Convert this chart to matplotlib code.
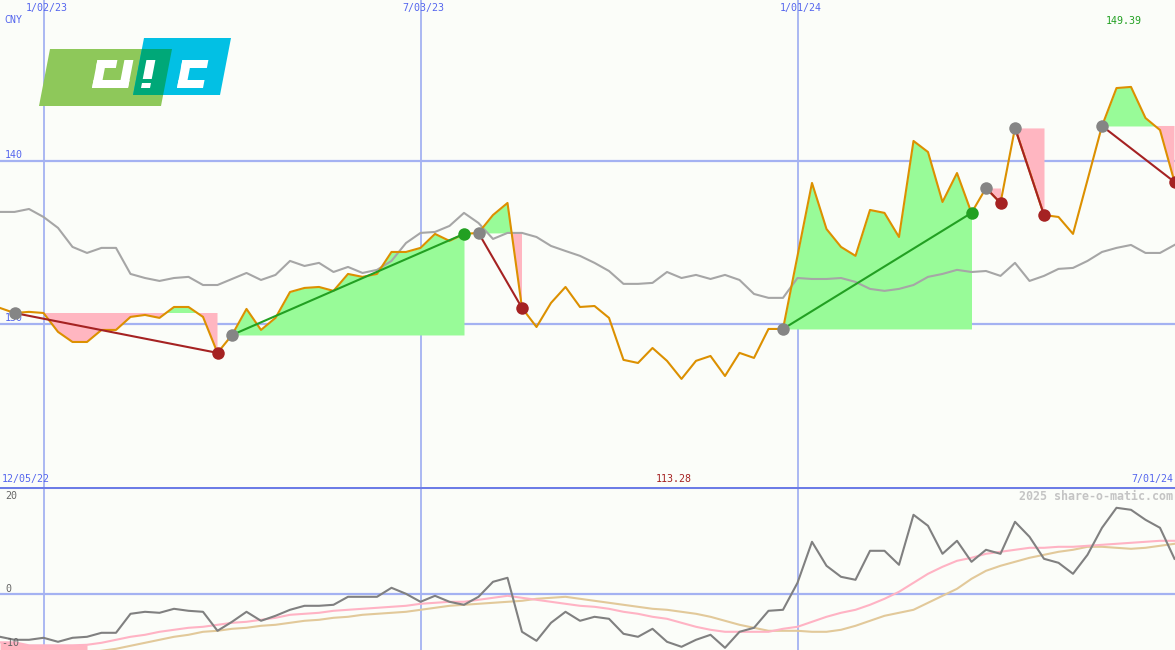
import matplotlib
matplotlib.use('Agg')
import matplotlib.pyplot as plt
from matplotlib.patches import Polygon
import matplotlib.transforms as mtransforms
import numpy as np

# ---------------- data (weekly, index 0 = 12/12/22) ----------------
price = [131.00, 130.69, 130.76, 130.69, 129.53, 128.91, 128.91, 129.65, 129.65, 130.45,
         130.57, 130.39, 131.06, 131.06, 130.45, 128.24, 129.34, 130.94, 129.65, 130.39,
         131.98, 132.23, 132.29, 132.05, 133.09, 132.91, 133.09, 134.44, 134.44, 134.69,
         135.55, 135.12, 135.55, 135.61, 136.71, 137.45, 131.00, 129.83, 131.31, 132.29,
         131.06, 131.12, 130.39, 127.81, 127.62, 128.54, 127.75, 126.64, 127.75, 128.05,
         126.82, 128.24, 127.93, 129.71, 129.71, 134.20, 138.68, 135.85, 134.75, 134.20,
         137.02, 136.84, 135.36, 141.26, 140.58, 137.51, 139.29, 136.84, 138.37, 137.45,
         142.06, 139.42, 136.71, 136.59, 135.55, 138.86, 142.18, 144.51, 144.58, 142.67,
         141.93, 138.74]

moving_avg = [136.90, 136.90, 137.08, 136.59, 135.92, 134.75, 134.38, 134.69, 134.69, 133.09,
              132.84, 132.66, 132.84, 132.91, 132.41, 132.41, 132.78, 133.15, 132.72, 133.03,
              133.89, 133.58, 133.77, 133.21, 133.52, 133.15, 133.34, 133.89, 134.99, 135.61,
              135.67, 136.04, 136.84, 136.22, 135.24, 135.61, 135.61, 135.36, 134.81, 134.50,
              134.20, 133.77, 133.27, 132.48, 132.48, 132.54, 133.21, 132.84, 133.03, 132.78,
              133.03, 132.72, 131.86, 131.62, 131.62, 132.84, 132.78, 132.78, 132.84, 132.60,
              132.17, 132.05, 132.17, 132.41, 132.91, 133.09, 133.34, 133.21, 133.27, 132.97,
              133.77, 132.66, 132.97, 133.40, 133.46, 133.89, 134.44, 134.69, 134.87, 134.38,
              134.38, 134.87]

momentum = [-8.5, -9.1, -9.1, -8.7, -9.5, -8.7, -8.5, -7.7, -7.7, -3.9,
            -3.5, -3.7, -2.9, -3.3, -3.5, -7.3, -5.5, -3.5, -5.3, -4.3,
            -3.1, -2.3, -2.3, -2.1, -0.5, -0.5, -0.5, 1.3, 0.1, -1.5,
            -0.3, -1.5, -2.1, -0.5, 2.5, 3.3, -7.5, -9.3, -5.7, -3.5,
            -5.3, -4.5, -4.9, -7.9, -8.5, -6.9, -9.5, -10.5, -9.1, -8.1,
            -10.7, -7.5, -6.7, -3.3, -3.1, 2.3, 10.5, 5.7, 3.5, 2.9,
            8.7, 8.7, 5.9, 15.9, 13.7, 8.1, 10.7, 6.5, 8.9, 8.1,
            14.5, 11.5, 7.1, 6.3, 4.1, 7.9, 13.3, 17.3, 16.9, 14.9,
            13.3, 7.1]

signal_fast = [-9.6, -9.6, -10.2, -10.2, -10.2, -10.2, -10.1, -9.7, -9.1, -8.5,
               -8.1, -7.5, -7.1, -6.7, -6.5, -6.1, -5.7, -5.5, -5.1, -4.7,
               -4.1, -3.9, -3.7, -3.3, -3.1, -2.9, -2.7, -2.5, -2.3, -1.9,
               -1.7, -1.5, -1.5, -1.1, -0.7, -0.3, -0.7, -1.1, -1.5, -1.9,
               -2.3, -2.5, -2.9, -3.5, -3.9, -4.5, -4.9, -5.7, -6.5, -7.1,
               -7.5, -7.5, -7.5, -7.5, -6.9, -6.5, -5.5, -4.5, -3.7, -3.1,
               -2.1, -0.9, 0.5, 2.3, 4.1, 5.5, 6.7, 7.3, 8.1, 8.5,
               8.9, 9.3, 9.3, 9.5, 9.5, 9.7, 9.9, 10.1, 10.3, 10.5,
               10.7, 10.7]

signal_slow = [-13.1, -12.9, -12.7, -12.5, -12.1, -11.9, -11.7, -11.3, -10.9, -10.3,
               -9.7, -9.1, -8.5, -8.1, -7.5, -7.3, -6.9, -6.7, -6.3, -6.1,
               -5.7, -5.3, -5.1, -4.7, -4.5, -4.1, -3.9, -3.7, -3.5, -3.1,
               -2.7, -2.3, -2.1, -1.9, -1.7, -1.5, -1.3, -0.9, -0.7, -0.5,
               -0.9, -1.3, -1.7, -2.1, -2.5, -2.9, -3.1, -3.5, -3.9, -4.5,
               -5.3, -6.1, -6.7, -7.3, -7.3, -7.3, -7.5, -7.5, -7.1, -6.3,
               -5.3, -4.3, -3.7, -3.1, -1.7, -0.3, 1.1, 3.1, 4.7, 5.7,
               6.5, 7.3, 7.9, 8.5, 8.9, 9.5, 9.5, 9.3, 9.1, 9.3,
               9.7, 10.1]

# trades: (buy index, sell index)
trades = [(1, 15), (16, 32), (33, 36), (54, 67), (68, 69), (70, 72), (76, 81)]

date_idx = [3, 29, 55]
date_labels = ['1/02/23', '7/03/23', '1/01/24']
price_grid = [140, 130]
osc_labels = ['20', '0', '-10']

# ---------------- styling ----------------
W, H = 1175, 650
BG = '#fbfdf9'
GRID = '#a4b2f2'
BLUE_TXT = '#5566ee'
ORANGE = '#dc9000'
MA_GRAY = '#a6a6a6'
GREEN_FILL = '#98fb98'
PINK_FILL = '#ffb6c1'
WIN = '#22a022'
LOSS = '#a52222'
MONO = 'DejaVu Sans Mono'
FS = 7.2

fig = plt.figure(figsize=(W / 100, H / 100), dpi=100)
fig.patch.set_facecolor(BG)

x = np.arange(len(price))
xmax = W / 14.5

top_h = 487
ax = fig.add_axes([0, (H - top_h) / H, 1, top_h / H])
axb = fig.add_axes([0, 0, 1, (H - top_h) / H])
for a in (ax, axb):
    a.set_facecolor(BG)
    a.set_xlim(0, xmax)
    a.set_xticks([])
    a.set_yticks([])
    for s in a.spines.values():
        s.set_visible(False)

ax.set_ylim(120.0, 149.92)
axb.set_ylim((594.3 - 650) / 5, (594.3 - 487) / 5)

# grid lines
for v in price_grid:
    ax.axhline(v, color=GRID, lw=1.6, zorder=0.5)
for d in date_idx:
    ax.axvline(d, color=GRID, lw=1.3, zorder=0.5)
    axb.axvline(d, color=GRID, lw=1.3, zorder=0.5)
axb.axhline(0, color=GRID, lw=1.6, zorder=0.5)
axb.axhline(axb.get_ylim()[1], color='#6c7ce6', lw=2.2, zorder=0.6)

# trade fills
p = np.array(price)
for b, s in trades:
    xs = x[b:s + 1]
    ps = p[b:s + 1]
    lvl = p[b]
    ax.fill_between(xs, ps, lvl, where=ps >= lvl, interpolate=True,
                    color=GREEN_FILL, lw=0, zorder=1)
    ax.fill_between(xs, ps, lvl, where=ps <= lvl, interpolate=True,
                    color=PINK_FILL, lw=0, zorder=1)

ax.plot(x, moving_avg, color=MA_GRAY, lw=1.5, zorder=2)
ax.plot(x, price, color=ORANGE, lw=1.5, zorder=3)

for b, s in trades:
    col = WIN if p[s] > p[b] else LOSS
    ax.plot([x[b], x[s]], [p[b], p[s]], color=col, lw=1.5, zorder=4)
    ax.plot(x[b], p[b], 'o', ms=9, color='#858585', mec='none', zorder=5)
    ax.plot(x[s], p[s], 'o', ms=9, color=col, mec='none', zorder=5)

# price labels (under the markers)
trans = mtransforms.blended_transform_factory(ax.transAxes, ax.transData)
for v in price_grid:
    ax.text(0.004, v + 0.1, str(v), transform=trans, fontsize=FS, family=MONO,
            color=BLUE_TXT, va='bottom', ha='left', zorder=1.5)

# oscillator panel
axb.fill_between(x[:7], signal_fast[:7], -12, color=PINK_FILL, lw=0, zorder=1)
axb.plot(x, signal_slow, color='#e2c99a', lw=1.5, zorder=2)
axb.plot(x, signal_fast, color='#ffb3c4', lw=1.5, zorder=2)
axb.plot(x, momentum, color='#808080', lw=1.5, zorder=3)

# ---------------- overlay (texts + logo) ----------------
ov = fig.add_axes([0, 0, 1, 1])
ov.set_xlim(0, W)
ov.set_ylim(H, 0)
ov.axis('off')
ov.patch.set_alpha(0)

for d, lab in zip(date_idx, date_labels):
    ov.text(d * 14.5 + 3, 8, lab, fontsize=FS, family=MONO, color=BLUE_TXT,
            ha='center', va='center')
ov.text(4, 20, 'CNY', fontsize=FS, family=MONO, color=BLUE_TXT, ha='left', va='center')
ov.text(1124, 21, '149.39', fontsize=FS, family=MONO, color=WIN, ha='center', va='center')
ov.text(2, 479, '12/05/22', fontsize=FS, family=MONO, color=BLUE_TXT, ha='left', va='center')
ov.text(674, 479, '113.28', fontsize=FS, family=MONO, color=LOSS, ha='center', va='center')
ov.text(1173, 479, '7/01/24', fontsize=FS, family=MONO, color=BLUE_TXT, ha='right', va='center')
ov.text(1173, 496, '2025 share-o-matic.com', fontsize=8.4, family=MONO, color='#c4c4c4',
        ha='right', va='center', weight='bold')
for lab, (lx, ly) in zip(osc_labels, [(5, 496), (5, 589), (1, 643)]):
    ov.text(lx, ly, lab, fontsize=FS, family=MONO, color='#666666', ha='left', va='center')

# logo
SL = 0.193


def sh(pts, base=88):
    return [(u + (base - y) * SL, y) for u, y in pts]


green_poly = [(39, 106), (50, 49), (172, 49), (161, 106)]
cyan_poly = [(133, 95), (144, 38), (231, 38), (220, 95)]
over_poly = [(133 + (95 - 49) * SL, 49), (172, 49), (161 + (106 - 95) * SL, 95), (133, 95)]
ov.add_patch(Polygon(green_poly, closed=True, color='#8ec85a', lw=0))
ov.add_patch(Polygon(cyan_poly, closed=True, color='#02c0e4', lw=0))
ov.add_patch(Polygon(over_poly, closed=True, color='#00a878', lw=0))

rects = [
    (92, 101, 60, 88), (92, 112, 60, 68), (92, 128, 80, 88), (119, 128, 60, 88),  # d
    (141, 150, 60, 79), (141, 150, 83, 88),                                        # !
    (177, 186, 60, 88), (177, 203, 60, 68), (177, 203, 80, 88),                    # c
]
for u0, u1, y0, y1 in rects:
    ov.add_patch(Polygon(sh([(u0, y1), (u0, y0), (u1, y0), (u1, y1)]), closed=True,
                         color='white', lw=0))

fig.savefig('out.png', dpi=100, facecolor=BG)
